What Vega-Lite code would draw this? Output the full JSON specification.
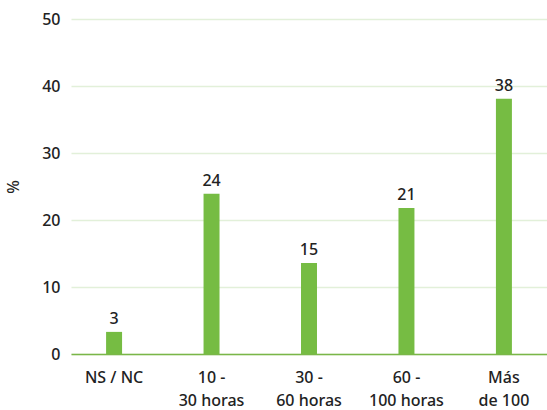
{
  "$schema": "https://vega.github.io/schema/vega-lite/v6.json",
  "width": 476,
  "height": 335,
  "autosize": "none",
  "padding": {"left": 71, "top": 19, "right": 0, "bottom": 56},
  "background": "white",
  "config": {
    "view": {"stroke": null},
    "font": "Noto Sans"
  },
  "data": {
    "values": [
      {"cat": "NS / NC", "value": 3.3, "label": "3"},
      {"cat": "10 -|30 horas", "value": 23.9, "label": "24"},
      {"cat": "30 -|60 horas", "value": 13.6, "label": "15"},
      {"cat": "60 -|100 horas", "value": 21.8, "label": "21"},
      {"cat": "Más|de 100", "value": 38.1, "label": "38"}
    ]
  },
  "encoding": {
    "x": {
      "field": "cat", "type": "nominal", "sort": null,
      "scale": {"paddingInner": 0.836, "paddingOuter": 0.36},
      "axis": {
        "title": null, "labelAngle": 0, "ticks": false,
        "domainColor": "#7ab648", "domainWidth": 1.5,
        "labelExpr": "split(datum.value, '|')",
        "labelFontSize": 16, "labelFontWeight": 500, "labelColor": "#222222", "labelPadding": 15,
        "labelLineHeight": 23, "labelBaseline": "top"
      }
    },
    "y": {
      "field": "value", "type": "quantitative",
      "scale": {"domain": [0, 50]},
      "axis": {
        "title": "%", "titleFontSize": 16, "titleFontWeight": 500, "titleColor": "#222222",
        "titlePadding": 20,
        "values": [0, 10, 20, 30, 40, 50],
        "domain": false, "ticks": false,
        "gridColor": "#e2f0d9", "gridWidth": 1.5,
        "labelFontSize": 16, "labelFontWeight": 500, "labelColor": "#222222", "labelPadding": 11
      }
    }
  },
  "layer": [
    {"mark": {"type": "bar", "color": "#76bc43"}},
    {
      "mark": {"type": "text", "dy": -13, "fontSize": 16, "fontWeight": 500, "color": "#222222"},
      "encoding": {"text": {"field": "label"}}
    }
  ]
}
